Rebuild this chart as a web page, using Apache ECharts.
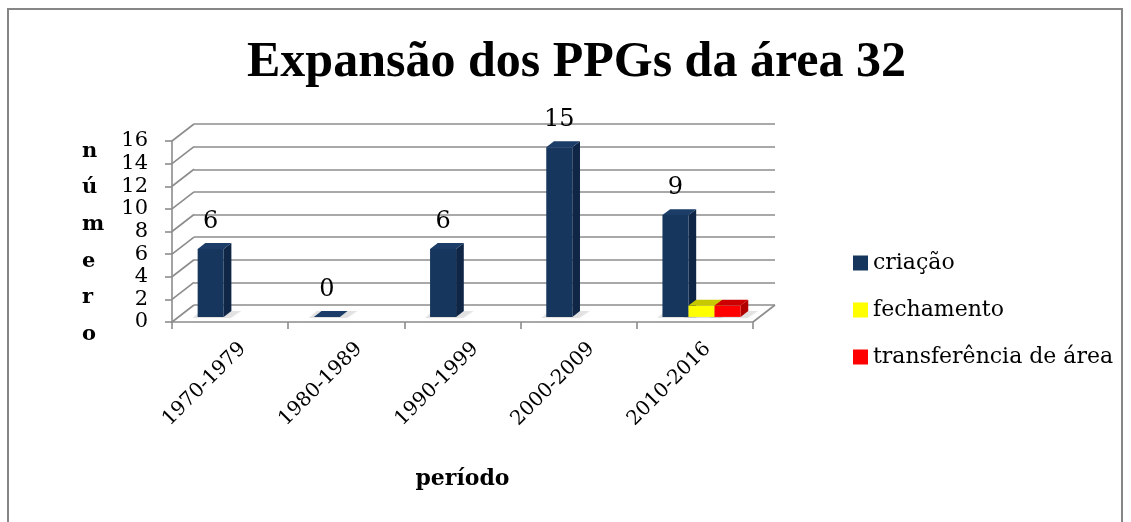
<!DOCTYPE html>
<html>
<head>
<meta charset="utf-8">
<script src="https://cdn.jsdelivr.net/npm/echarts@6/dist/echarts.min.js"></script>
<style>
  html, body { margin: 0; padding: 0; background: #fff; }
  #chart { width: 1131px; height: 522px; }
</style>
</head>
<body>
<div id="chart"></div>
<script>
// dados
const categories = ['1970-1979', '1980-1989', '1990-1999', '2000-2009', '2010-2016'];
const criacao = [6, 0, 6, 15, 9];
const fechamento = [null, null, null, null, 1];
const transferencia = [null, null, null, null, 1];
const yTicks = [0, 2, 4, 6, 8, 10, 12, 14, 16];

// deslocamento da "profundidade" (efeito 3D)
const DX = 22, DY = -17;
const D0 = 0.3, D1 = 0.65; // face da frente / de trás da barra
const GRID_COLOR = '#8c8c8c';
const SERIF = '"DejaVu Serif", serif';

const front = { left: 172, right: 378, top: 141, bottom: 200 };

const palette = [
  { front: '#17365d', side: '#0f2646', top: '#1b3d68' },
  { front: '#ffff00', side: '#c8c800', top: '#c8c800' },
  { front: '#ff0000', side: '#b00000', top: '#cc0000' }
];

function barRenderer(idx, withLabel) {
  return function (params, api) {
    const c = api.value(0);
    const v = api.value(1);
    if (v == null || isNaN(v)) return null;
    const base = api.coord([c, 0]);
    const top = api.coord([c, v]);
    const band = api.size([1, 0])[0];
    const bw = band * 0.224;
    const x0 = base[0] - 1.5 * bw + idx * bw + D0 * DX;
    const yB = base[1] + D0 * DY;
    const yT = top[1] + D0 * DY;
    const ddx = (D1 - D0) * DX, ddy = (D1 - D0) * DY;
    const col = palette[idx];
    const children = [
      { // sombra no chão
        type: 'polygon', z2: 0,
        shape: { points: [[x0 - 5, yB + 1], [x0 + bw + 7, yB + 1], [x0 + bw + ddx + 10, yB + ddy], [x0 + ddx - 5, yB + ddy]] },
        style: { fill: 'rgba(0,0,0,0.10)', shadowBlur: 7, shadowColor: 'rgba(0,0,0,0.3)' }
      }
    ];
    if (v > 0) {
      children.push({
        type: 'polygon', z2: 1,
        shape: { points: [[x0 + bw, yB], [x0 + bw + ddx, yB + ddy], [x0 + bw + ddx, yT + ddy], [x0 + bw, yT]] },
        style: { fill: col.side }
      });
      children.push({
        type: 'rect', z2: 2,
        shape: { x: x0, y: yT, width: bw, height: yB - yT },
        style: { fill: col.front }
      });
    }
    children.push({
      type: 'polygon', z2: 3,
      shape: { points: [[x0, yT], [x0 + bw, yT], [x0 + bw + ddx, yT + ddy], [x0 + ddx, yT + ddy]] },
      style: { fill: col.top }
    });
    if (withLabel) {
      children.push({
        type: 'text', z2: 4,
        style: {
          text: String(v), x: x0 + bw / 2, y: yT - 27,
          align: 'center', verticalAlign: 'middle',
          fill: '#000', fontSize: 24, fontFamily: SERIF
        }
      });
    }
    return { type: 'group', children: children };
  };
}

function toData(arr) {
  return arr.map((v, i) => [i, v]);
}

const option = {
  backgroundColor: '#fff',
  animation: false,
  title: {
    text: 'Expansão dos PPGs da área 32',
    left: 247, top: 38, padding: 0,
    textStyle: { fontFamily: '"Liberation Serif", serif', fontWeight: 'bold', fontSize: 50, color: '#000' }
  },
  legend: {
    orient: 'vertical',
    left: 853, top: 252,
    itemWidth: 15, itemHeight: 15, itemGap: 25,
    padding: 0,
    icon: 'rect',
    data: ['criação', 'fechamento', 'transferência de área'],
    textStyle: { fontFamily: SERIF, fontSize: 22, color: '#000' }
  },
  graphic: [
    { type: 'rect', shape: { x: 8, y: 9, width: 1114, height: 530 }, style: { fill: 'none', stroke: '#868686', lineWidth: 2 } },
    { // título do eixo vertical, uma letra por linha
      type: 'text', left: 82, top: 133,
      style: {
        text: 'n\nú\nm\ne\nr\no', align: 'center', lineHeight: 36.6,
        fontFamily: SERIF, fontWeight: 'bold', fontSize: 21, fill: '#000'
      }
    }
  ],
  grid: [
    Object.assign({ outerBoundsMode: 'none' }, front),
    { // parede do fundo
      outerBoundsMode: 'none',
      left: front.left + DX, right: front.right - DX,
      top: front.top + DY, bottom: front.bottom - DY
    }
  ],
  xAxis: [
    {
      type: 'category', gridIndex: 0, data: categories,
      name: 'período', nameLocation: 'middle', nameGap: 146,
      nameTextStyle: { fontFamily: SERIF, fontWeight: 'bold', fontSize: 22, color: '#000' },
      axisLine: { lineStyle: { color: GRID_COLOR, width: 1.6 } },
      axisTick: { show: true, length: 7, lineStyle: { color: GRID_COLOR, width: 1.6 } },
      axisLabel: {
        rotate: 45, margin: 11, verticalAlign: 'top', padding: [8, 0, 0, 0],
        fontFamily: SERIF, fontSize: 20, color: '#000', interval: 0
      }
    },
    { type: 'category', gridIndex: 1, data: categories, show: false }
  ],
  yAxis: [
    {
      type: 'value', gridIndex: 0, min: 0, max: 16, interval: 2,
      axisLine: { show: true, lineStyle: { color: GRID_COLOR, width: 1.6 } },
      axisTick: { show: true, length: 7, lineStyle: { color: GRID_COLOR, width: 1.6 } },
      splitLine: { show: false },
      axisLabel: { margin: 24, fontFamily: SERIF, fontSize: 21, color: '#000' }
    },
    {
      type: 'value', gridIndex: 1, min: 0, max: 16, interval: 2,
      axisLine: { show: false }, axisTick: { show: false }, axisLabel: { show: false },
      splitLine: { show: true, lineStyle: { color: GRID_COLOR, width: 1.6 } }
    }
  ],
  series: [
    { // linhas da parede lateral e borda do chão
      type: 'custom', name: 'frame', xAxisIndex: 0, yAxisIndex: 0, z: 1,
      data: yTicks.map(v => [0, v]),
      renderItem: function (params, api) {
        const cs = params.coordSys;
        const v = api.value(1);
        const y = api.coord([0, v])[1];
        const st = { stroke: GRID_COLOR, lineWidth: 1.6 };
        const children = [{ type: 'line', shape: { x1: cs.x, y1: y, x2: cs.x + DX, y2: y + DY }, style: st }];
        if (v === 0) {
          children.push({ type: 'line', shape: { x1: cs.x + cs.width, y1: y, x2: cs.x + cs.width + DX, y2: y + DY }, style: st });
        }
        return { type: 'group', children: children };
      }
    },
    {
      type: 'custom', name: 'criação', xAxisIndex: 0, yAxisIndex: 0, z: 3,
      itemStyle: { color: palette[0].front },
      data: toData(criacao), renderItem: barRenderer(0, true)
    },
    {
      type: 'custom', name: 'fechamento', xAxisIndex: 0, yAxisIndex: 0, z: 3,
      itemStyle: { color: palette[1].front },
      data: toData(fechamento), renderItem: barRenderer(1, false)
    },
    {
      type: 'custom', name: 'transferência de área', xAxisIndex: 0, yAxisIndex: 0, z: 3,
      itemStyle: { color: palette[2].front },
      data: toData(transferencia), renderItem: barRenderer(2, false)
    }
  ]
};

const myChart = echarts.init(document.getElementById('chart'));
myChart.setOption(option);
</script>
</body>
</html>
